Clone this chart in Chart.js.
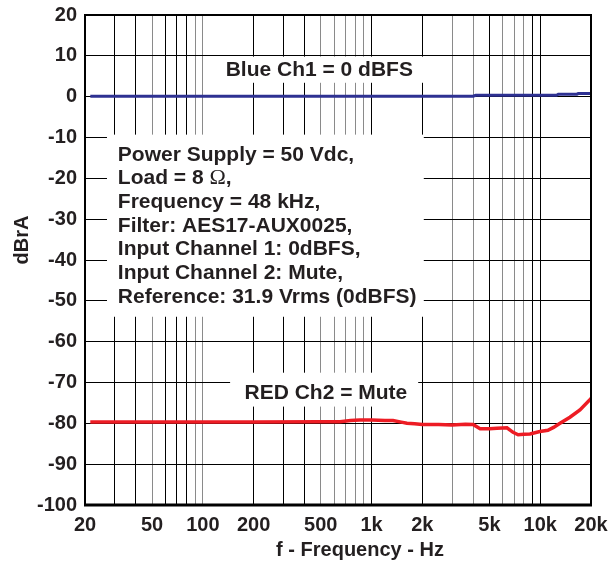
<!DOCTYPE html>
<html><head><meta charset="utf-8">
<script src="https://cdn.jsdelivr.net/npm/chart.js@4"></script>
<style>html,body{margin:0;padding:0;background:#fff}#wrap{width:616px;height:565px}</style>
</head><body><div id="wrap"><canvas id="c" width="616" height="565"></canvas></div>
<script>
// ---- data ----
const xTickValues = [20,30,40,50,60,70,80,90,100,200,300,400,500,600,700,800,900,1000,2000,3000,4000,5000,6000,7000,8000,9000,10000,20000];
const xTickLabels = {20:'20',50:'50',100:'100',200:'200',500:'500',1000:'1k',2000:'2k',5000:'5k',10000:'10k',20000:'20k'};
const grayGridValues = [50,90,100,500,600,700,800,900,3000,4000,6000,7000,8000];
const yTickValues = [20,10,0,-10,-20,-30,-40,-50,-60,-70,-80,-90,-100];

const blueFreq = [21.5, 50, 100, 500, 1000, 2000, 4000, 4150, 8000, 12500, 12800, 16500, 16800, 20000];
const blueDb   = [0.1, 0.1, 0.1, 0.1, 0.1, 0.1, 0.1, 0.35, 0.35, 0.35, 0.6, 0.6, 0.75, 0.75];

const redFreq = [21.5, 50, 100, 200, 500, 650, 750, 850, 1000, 1200, 1340, 1500, 1620, 1800, 2000, 2500, 3000, 3600, 4000, 4400, 5000, 5540, 6350, 6900, 7400, 8000, 8700, 9950, 11100, 12000, 13100, 15000, 17200, 19700, 20000];
const redDb   = [-79.7, -79.7, -79.7, -79.7, -79.6, -79.6, -79.3, -79.2, -79.2, -79.3, -79.3, -79.7, -80.0, -80.1, -80.3, -80.3, -80.4, -80.2, -80.3, -81.3, -81.3, -81.2, -81.1, -82.2, -82.8, -82.7, -82.6, -82.0, -81.7, -81.0, -80.0, -78.5, -76.7, -74.2, -73.9];

const blueLabel = 'Blue Ch1 = 0 dBFS';
const redLabel = 'RED Ch2 = Mute';
const infoLines = [
  'Power Supply = 50 Vdc,',
  'Load = 8 \u03A9,',
  'Frequency = 48 kHz,',
  'Filter: AES17-AUX0025,',
  'Input Channel 1: 0dBFS,',
  'Input Channel 2: Mute,',
  'Reference: 31.9 Vrms (0dBFS)'
];
const xTitle = 'f - Frequency - Hz';
const yTitle = 'dBrA';

const FONT = '"Liberation Sans", Arial, sans-serif';

const overlay = {
  id: 'overlay',
  beforeDatasetsDraw(chart) {
    const ctx = chart.ctx, xs = chart.scales.x, ys = chart.scales.y;
    ctx.save();
    ctx.fillStyle = '#fff';
    const box = (f1, f2, d1, d2) => {
      const x1 = xs.getPixelForValue(f1), x2 = xs.getPixelForValue(f2);
      const y1 = ys.getPixelForValue(d1), y2 = ys.getPixelForValue(d2);
      ctx.fillRect(x1, y1, x2 - x1, y2 - y1);
    };
    box(113, 2130, 9.8, 3.4);
    box(27, 2040, -9.3, -53.9);
    box(145, 1890, -67.6, -75.9);
    ctx.restore();
  },
  afterDraw(chart) {
    const ctx = chart.ctx, xs = chart.scales.x, ys = chart.scales.y, a = chart.chartArea;
    ctx.save();
    ctx.fillStyle = '#231f20';
    ctx.font = 'bold 21px ' + FONT;
    ctx.textBaseline = 'middle';
    ctx.textAlign = 'center';
    ctx.fillText(blueLabel, xs.getPixelForValue(490), ys.getPixelForValue(6.8) + 1);
    ctx.fillText(redLabel, xs.getPixelForValue(536), ys.getPixelForValue(-72.4) + 1);
    ctx.textAlign = 'left';
    const tx = xs.getPixelForValue(31.3);
    const ty0 = ys.getPixelForValue(-14) + 1;
    infoLines.forEach((line, i) => {
      const y = ty0 + i * 23.7;
      if (line.indexOf('\u03A9') >= 0) {
        const parts = line.split('\u03A9');
        ctx.font = 'bold 21px ' + FONT;
        ctx.fillText(parts[0], tx, y);
        let w = ctx.measureText(parts[0]).width;
        ctx.font = '22px "Liberation Serif", "DejaVu Serif", serif';
        ctx.fillText('\u03A9', tx + w, y);
        w += ctx.measureText('\u03A9').width;
        ctx.font = 'bold 21px ' + FONT;
        ctx.fillText(parts[1], tx + w, y);
      } else {
        ctx.fillText(line, tx, y);
      }
    });
    // axis titles
    ctx.font = 'bold 20px ' + FONT;
    ctx.textAlign = 'center';
    ctx.fillText(xTitle, 360, 550);
    ctx.translate(22, 240);
    ctx.rotate(-Math.PI / 2);
    ctx.fillText(yTitle, 0, 0);
    ctx.restore();
    // frame
    ctx.save();
    ctx.strokeStyle = '#000';
    ctx.lineWidth = 2;
    ctx.strokeRect(a.left, a.top, a.right - a.left, a.bottom - a.top);
    ctx.lineWidth = 3;
    ctx.beginPath();
    ctx.moveTo(a.left - 1, a.bottom);
    ctx.lineTo(a.right + 1, a.bottom);
    ctx.stroke();
    ctx.restore();
  }
};

new Chart(document.getElementById('c'), {
  type: 'line',
  data: {
    datasets: [
      { label: 'Ch1', data: blueFreq.map((f, i) => ({x: f, y: blueDb[i]})), borderColor: '#2e3192', borderWidth: 3, pointRadius: 0, tension: 0 },
      { label: 'Ch2', data: redFreq.map((f, i) => ({x: f, y: redDb[i]})), borderColor: '#ed1c24', borderWidth: 3.5, pointRadius: 0, tension: 0 }
    ]
  },
  options: {
    responsive: false,
    animation: false,
    devicePixelRatio: 1,
    layout: { autoPadding: false, padding: { top: 15, right: 25, left: 0, bottom: 0 } },
    plugins: { legend: { display: false }, tooltip: { enabled: false } },
    scales: {
      x: {
        type: 'logarithmic', min: 20, max: 20000,
        afterBuildTicks: s => { s.ticks = xTickValues.map(v => ({value: v})); },
        afterFit: s => { s.height = 60; s.paddingLeft = 0; s.paddingRight = 0; },
        border: { display: false },
        grid: {
          drawTicks: false, lineWidth: 1,
          color: c => (c.tick && grayGridValues.includes(c.tick.value)) ? '#8a8a8a' : '#000000'
        },
        ticks: {
          autoSkip: false, maxRotation: 0, padding: 8, color: '#231f20',
          font: { family: FONT, size: 20, weight: 'bold' },
          callback: v => xTickLabels[v] || ''
        }
      },
      y: {
        min: -100, max: 20,
        afterBuildTicks: s => { s.ticks = yTickValues.map(v => ({value: v})); },
        afterFit: s => { s.width = 85; s.paddingTop = 0; s.paddingBottom = 0; },
        border: { display: false },
        grid: { drawTicks: false, lineWidth: 1, color: '#000000' },
        ticks: {
          padding: 8, color: '#231f20',
          font: { family: FONT, size: 20, weight: 'bold' }
        }
      }
    }
  },
  plugins: [overlay]
});
</script>
</body></html>
